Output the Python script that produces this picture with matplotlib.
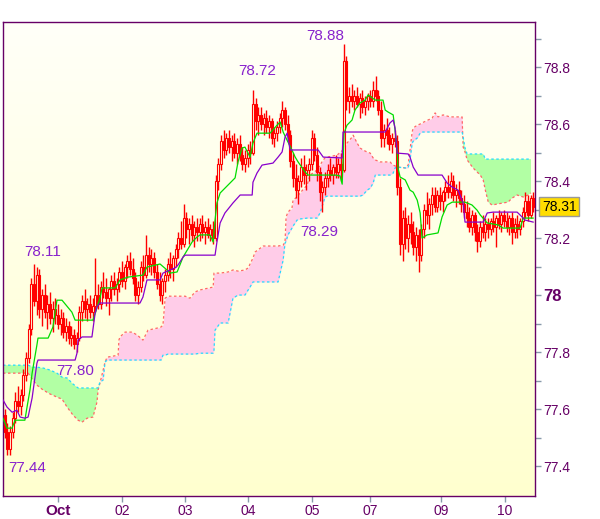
import numpy as np
import matplotlib.pyplot as plt
from matplotlib.colors import LinearSegmentedColormap

plt.rcParams['font.family'] = ['Liberation Sans', 'DejaVu Sans']

# hourly candles, USD/JPY-like
opens = [77.58, 77.52, 77.46, 77.52, 77.57, 77.63, 77.61, 77.65, 77.72, 77.78,
         77.88, 78.04, 77.98, 78.07, 77.95, 78.00, 77.94, 77.97, 77.92, 77.95,
         77.93, 77.90, 77.92, 77.87, 77.89, 77.85, 77.86, 77.83, 77.85, 77.94,
         77.98, 77.95, 77.97, 77.94, 77.96, 78.00, 77.97, 78.03, 78.01, 77.99,
         78.02, 78.05, 78.02, 78.04, 78.08, 78.05, 78.10, 78.12, 78.09, 78.06,
         78.00, 78.03, 78.10, 78.07, 78.14, 78.11, 78.13, 78.08, 78.04, 78.00,
         78.05, 78.07, 78.11, 78.09, 78.13, 78.16, 78.20, 78.18, 78.27, 78.23,
         78.25, 78.21, 78.24, 78.22, 78.25, 78.22, 78.24, 78.21, 78.23, 78.20,
         78.40, 78.46, 78.54, 78.51, 78.55, 78.52, 78.54, 78.50, 78.53, 78.49,
         78.46, 78.48, 78.51, 78.50, 78.67, 78.61, 78.63, 78.60, 78.62, 78.59,
         78.61, 78.55, 78.57, 78.59, 78.62, 78.65, 78.60, 78.56, 78.47, 78.41,
         78.37, 78.40, 78.45, 78.42, 78.44, 78.46, 78.55, 78.49, 78.43, 78.36,
         78.38, 78.41, 78.44, 78.42, 78.45, 78.43, 78.46, 78.44, 78.82, 78.68,
         78.70, 78.68, 78.70, 78.67, 78.69, 78.66, 78.68, 78.70, 78.68, 78.72,
         78.70, 78.65, 78.55, 78.58, 78.56, 78.53, 78.55, 78.54, 78.38, 78.18,
         78.27, 78.20, 78.25, 78.22, 78.17, 78.21, 78.14, 78.23, 78.30, 78.28,
         78.32, 78.35, 78.31, 78.35, 78.33, 78.36, 78.38, 78.36, 78.40, 78.35,
         78.37, 78.34, 78.32, 78.29, 78.27, 78.24, 78.28, 78.22, 78.19, 78.24,
         78.22, 78.25, 78.23, 78.26, 78.24, 78.27, 78.25, 78.28, 78.26, 78.24,
         78.27, 78.22, 78.25, 78.23, 78.26, 78.29, 78.33, 78.28, 78.34]
highs = [77.60, 77.55, 77.54, 77.59, 77.66, 77.68, 77.67, 77.74, 77.80, 77.90,
         78.06, 78.11, 78.10, 78.09, 78.02, 78.04, 78.00, 78.01, 77.98, 77.99,
         77.97, 77.95, 77.94, 77.92, 77.91, 77.89, 77.88, 77.87, 77.96, 78.00,
         78.02, 77.99, 78.00, 77.99, 78.13, 78.04, 78.05, 78.08, 78.06, 78.03,
         78.07, 78.08, 78.06, 78.10, 78.12, 78.11, 78.14, 78.15, 78.13, 78.08,
         78.05, 78.12, 78.14, 78.21, 78.17, 78.16, 78.15, 78.11, 78.08, 78.06,
         78.09, 78.13, 78.15, 78.14, 78.18, 78.22, 78.26, 78.32, 78.29, 78.27,
         78.28, 78.26, 78.27, 78.27, 78.28, 78.26, 78.27, 78.25, 78.26, 78.42,
         78.48, 78.56, 78.58, 78.57, 78.58, 78.56, 78.57, 78.55, 78.56, 78.52,
         78.51, 78.53, 78.54, 78.72, 78.69, 78.66, 78.66, 78.64, 78.65, 78.63,
         78.62, 78.59, 78.61, 78.64, 78.68, 78.66, 78.63, 78.58, 78.50, 78.46,
         78.42, 78.48, 78.49, 78.46, 78.48, 78.58, 78.57, 78.52, 78.45, 78.40,
         78.43, 78.46, 78.48, 78.46, 78.49, 78.48, 78.50, 78.88, 78.84, 78.73,
         78.74, 78.72, 78.73, 78.71, 78.72, 78.70, 78.71, 78.72, 78.75, 78.77,
         78.72, 78.68, 78.60, 78.62, 78.59, 78.57, 78.58, 78.56, 78.41, 78.30,
         78.31, 78.28, 78.29, 78.26, 78.24, 78.23, 78.25, 78.32, 78.36, 78.34,
         78.38, 78.38, 78.37, 78.38, 78.37, 78.40, 78.42, 78.43, 78.42, 78.39,
         78.40, 78.37, 78.35, 78.33, 78.31, 78.30, 78.29, 78.25, 78.26, 78.28,
         78.27, 78.27, 78.27, 78.29, 78.28, 78.30, 78.29, 78.30, 78.29, 78.28,
         78.29, 78.27, 78.28, 78.27, 78.31, 78.36, 78.35, 78.35, 78.36]
lows = [77.50, 77.44, 77.44, 77.50, 77.55, 77.59, 77.58, 77.63, 77.70, 77.76,
        77.86, 77.96, 77.93, 77.92, 77.89, 77.92, 77.88, 77.90, 77.87, 77.90,
        77.88, 77.86, 77.85, 77.84, 77.83, 77.82, 77.81, 77.80, 77.84, 77.91,
        77.92, 77.91, 77.92, 77.91, 77.94, 77.95, 77.95, 77.99, 77.96, 77.93,
        77.98, 78.00, 77.98, 78.01, 78.03, 78.02, 78.06, 78.07, 78.04, 77.98,
        77.97, 78.01, 78.05, 78.06, 78.08, 78.07, 78.06, 78.02, 77.98, 77.97,
        78.01, 78.05, 78.06, 78.05, 78.10, 78.13, 78.16, 78.17, 78.20, 78.18,
        78.19, 78.17, 78.19, 78.19, 78.20, 78.18, 78.20, 78.19, 78.18, 78.19,
        78.37, 78.44, 78.48, 78.49, 78.50, 78.47, 78.48, 78.46, 78.47, 78.44,
        78.43, 78.45, 78.46, 78.49, 78.58, 78.56, 78.58, 78.56, 78.57, 78.55,
        78.53, 78.52, 78.54, 78.57, 78.59, 78.58, 78.54, 78.45, 78.38, 78.34,
        78.32, 78.38, 78.39, 78.37, 78.40, 78.44, 78.47, 78.40, 78.33, 78.29,
        78.35, 78.38, 78.40, 78.39, 78.41, 78.41, 78.40, 78.43, 78.65, 78.64,
        78.66, 78.65, 78.66, 78.62, 78.64, 78.63, 78.65, 78.66, 78.66, 78.68,
        78.63, 78.52, 78.52, 78.53, 78.51, 78.50, 78.52, 78.35, 78.14, 78.12,
        78.16, 78.15, 78.18, 78.14, 78.12, 78.08, 78.12, 78.20, 78.25, 78.23,
        78.28, 78.29, 78.29, 78.30, 78.29, 78.33, 78.34, 78.34, 78.33, 78.31,
        78.32, 78.29, 78.27, 78.24, 78.22, 78.21, 78.19, 78.15, 78.17, 78.20,
        78.19, 78.20, 78.21, 78.22, 78.17, 78.23, 78.22, 78.24, 78.22, 78.21,
        78.18, 78.20, 78.20, 78.21, 78.24, 78.27, 78.26, 78.27, 78.29]
closes = [77.52, 77.46, 77.52, 77.57, 77.63, 77.61, 77.65, 77.72, 77.78, 77.88,
          78.04, 77.98, 78.07, 77.95, 78.00, 77.94, 77.97, 77.92, 77.95, 77.93,
          77.90, 77.92, 77.87, 77.89, 77.85, 77.86, 77.83, 77.85, 77.94, 77.98,
          77.95, 77.97, 77.94, 77.96, 78.00, 77.97, 78.03, 78.01, 77.99, 78.02,
          78.05, 78.02, 78.04, 78.08, 78.05, 78.10, 78.12, 78.09, 78.06, 78.00,
          78.03, 78.10, 78.07, 78.14, 78.11, 78.13, 78.08, 78.04, 78.00, 78.05,
          78.07, 78.11, 78.09, 78.13, 78.16, 78.20, 78.18, 78.27, 78.23, 78.25,
          78.21, 78.24, 78.22, 78.25, 78.22, 78.24, 78.21, 78.23, 78.20, 78.40,
          78.46, 78.54, 78.51, 78.55, 78.52, 78.54, 78.50, 78.53, 78.49, 78.46,
          78.48, 78.51, 78.50, 78.67, 78.61, 78.63, 78.60, 78.62, 78.59, 78.61,
          78.55, 78.57, 78.59, 78.62, 78.65, 78.60, 78.56, 78.47, 78.41, 78.37,
          78.40, 78.45, 78.42, 78.44, 78.46, 78.55, 78.49, 78.43, 78.36, 78.38,
          78.41, 78.44, 78.42, 78.45, 78.43, 78.46, 78.44, 78.82, 78.68, 78.70,
          78.68, 78.70, 78.67, 78.69, 78.66, 78.68, 78.70, 78.68, 78.72, 78.70,
          78.65, 78.55, 78.58, 78.56, 78.53, 78.55, 78.54, 78.38, 78.18, 78.27,
          78.20, 78.25, 78.22, 78.17, 78.21, 78.14, 78.23, 78.30, 78.28, 78.32,
          78.35, 78.31, 78.35, 78.33, 78.36, 78.38, 78.36, 78.40, 78.35, 78.37,
          78.34, 78.32, 78.29, 78.27, 78.24, 78.28, 78.22, 78.19, 78.24, 78.22,
          78.25, 78.23, 78.26, 78.24, 78.27, 78.25, 78.28, 78.26, 78.24, 78.27,
          78.22, 78.25, 78.23, 78.26, 78.29, 78.33, 78.28, 78.34, 78.31]

# tenkan (green) and kijun (purple) line vertices: (bar index, price)
tenkan_x = [-0.6, 0.9, 2.8, 3.9, 7.6, 8.4, 9.5, 10.3, 12.1, 12.5, 16.3, 18.1, 19.6, 21.5,
            25.2, 26.4, 33.1, 35.7, 36.5, 41.4, 43.2, 46.2, 51.8, 53.3, 58.2, 60.8, 61.9,
            64.6, 66.8, 70.2, 72.1, 73.2, 76.9, 78.1, 78.8, 79.5, 80.7, 84.4, 86.3, 87.4,
            88.9, 90.0, 91.9, 93.0, 94.5, 99.4, 102.0, 103.2, 104.3, 106.1, 107.6, 108.8,
            109.9, 112.5, 113.6, 123.7, 125.6, 126.4, 127.1, 128.2, 130.1, 131.2, 133.1,
            135.0, 136.1, 138.8, 141.7, 142.5, 143.6, 145.5, 146.2, 147.0, 147.3, 148.1,
            150.0, 151.8, 153.0, 154.5, 155.6, 156.3, 158.2, 162.3, 163.8, 165.7, 167.6,
            172.4, 175.0, 176.9, 178.1, 180.7, 184.8, 186.6, 193.0, 194.2, 197.9]
tenkan = [77.568, 77.533, 77.533, 77.561, 77.561, 77.607, 77.667, 77.726, 77.825, 77.849,
          77.849, 77.888, 77.982, 77.982, 77.940, 77.912, 77.912, 77.989, 78.025, 78.025,
          78.053, 78.063, 78.070, 78.098, 78.109, 78.088, 78.077, 78.081, 78.133, 78.186,
          78.204, 78.211, 78.211, 78.186, 78.263, 78.323, 78.358, 78.393, 78.411, 78.467,
          78.516, 78.519, 78.484, 78.533, 78.568, 78.568, 78.596, 78.607, 78.572, 78.537,
          78.509, 78.484, 78.467, 78.432, 78.421, 78.421, 78.418, 78.389, 78.568, 78.596,
          78.614, 78.649, 78.674, 78.684, 78.702, 78.684, 78.684, 78.649, 78.642, 78.632,
          78.579, 78.509, 78.446, 78.414, 78.404, 78.368, 78.361, 78.333, 78.288, 78.200,
          78.211, 78.218, 78.274, 78.316, 78.326, 78.326, 78.316, 78.298, 78.281, 78.253,
          78.246, 78.235, 78.235, 78.270, 78.270]

kijun_x = [-0.6, 0.9, 2.8, 4.6, 5.8, 7.6, 8.8, 10.3, 12.1, 12.5, 26.4, 27.1, 27.5, 29.0,
           32.7, 33.9, 34.6, 35.7, 50.7, 51.8, 53.3, 58.2, 59.3, 61.9, 63.8, 64.9, 66.8,
           67.6, 78.8, 79.5, 80.7, 82.5, 85.5, 88.2, 92.7, 93.0, 94.5, 96.4, 100.5, 102.4,
           103.9, 105.0, 105.8, 106.9, 117.4, 119.3, 126.4, 126.7, 142.5, 144.3, 145.5,
           146.2, 147.0, 151.1, 151.8, 153.0, 154.8, 163.8, 165.7, 167.6, 169.8, 171.7,
           172.4, 179.2, 180.7, 182.9, 191.9, 193.0, 194.9, 197.9]
kijun = [77.632, 77.607, 77.589, 77.596, 77.572, 77.568, 77.572, 77.639, 77.761, 77.772,
         77.772, 77.796, 77.842, 77.853, 77.853, 77.937, 77.958, 77.972, 77.972, 77.993,
         78.053, 78.053, 78.077, 78.088, 78.095, 78.105, 78.133, 78.140, 78.140, 78.186,
         78.253, 78.288, 78.323, 78.351, 78.351, 78.396, 78.428, 78.456, 78.463, 78.484,
         78.502, 78.554, 78.568, 78.509, 78.509, 78.484, 78.481, 78.572, 78.572, 78.604,
         78.614, 78.586, 78.498, 78.495, 78.484, 78.449, 78.421, 78.421, 78.393, 78.379,
         78.368, 78.323, 78.256, 78.256, 78.288, 78.291, 78.291, 78.281, 78.263, 78.256]

# cloud spans on a shared set of bar positions
span_x = [-0.6, 8.8, 10.6, 12.1, 14.4, 17.0, 19.6, 21.5, 23.4, 25.6, 27.5, 29.0, 30.9, 33.1,
          34.6, 35.0, 35.7, 36.9, 37.6, 38.4, 42.5, 42.8, 43.2, 45.1, 47.7, 49.6, 51.8, 53.7,
          57.1, 58.6, 59.3, 60.1, 61.2, 67.6, 69.4, 71.3, 73.2, 78.1, 78.4, 78.8, 80.7, 83.7,
          85.5, 87.4, 90.0, 91.2, 91.9, 93.0, 93.8, 96.8, 102.4, 104.3, 105.0, 105.4, 106.1,
          107.6, 108.0, 109.5, 110.6, 113.3, 114.4, 117.0, 118.1, 119.3, 120.0, 120.8, 124.5,
          126.7, 128.2, 130.1, 130.5, 132.0, 133.1, 134.2, 135.7, 136.9, 138.0, 138.8, 140.6,
          144.3, 145.5, 146.2, 147.0, 150.0, 151.1, 151.8, 152.6, 153.0, 154.5, 155.6, 156.3,
          160.1, 161.2, 162.3, 164.2, 166.8, 171.3, 171.7, 172.4, 173.2, 175.4, 176.9, 178.1,
          179.2, 180.0, 181.1, 182.5, 186.6, 188.5, 190.0, 191.9, 194.2, 196.0, 197.1]
span_a = [77.726, 77.726, 77.702, 77.684, 77.667, 77.653, 77.642, 77.635, 77.607, 77.579,
          77.561, 77.554, 77.568, 77.572, 77.625, 77.667, 77.691, 77.737, 77.765, 77.782,
          77.789, 77.842, 77.853, 77.870, 77.870, 77.860, 77.842, 77.877, 77.884, 77.888,
          77.895, 77.989, 77.996, 77.996, 77.989, 78.011, 78.018, 78.028, 78.077, 78.077,
          78.077, 78.081, 78.088, 78.084, 78.088, 78.095, 78.109, 78.130, 78.151, 78.172,
          78.172, 78.175, 78.186, 78.274, 78.291, 78.305, 78.333, 78.344, 78.358, 78.386,
          78.421, 78.439, 78.456, 78.474, 78.481, 78.484, 78.491, 78.509, 78.533, 78.554,
          78.561, 78.533, 78.516, 78.509, 78.502, 78.498, 78.481, 78.474, 78.467, 78.467,
          78.456, 78.453, 78.449, 78.446, 78.456, 78.509, 78.572, 78.586, 78.596, 78.600,
          78.604, 78.621, 78.639, 78.625, 78.632, 78.625, 78.625, 78.519, 78.502, 78.474,
          78.446, 78.432, 78.421, 78.404, 78.368, 78.326, 78.316, 78.323, 78.326, 78.340,
          78.351, 78.344, 78.351, 78.358]
span_b = [77.754, 77.754, 77.747, 77.747, 77.744, 77.737, 77.726, 77.712, 77.709, 77.688,
          77.674, 77.674, 77.674, 77.674, 77.674, 77.674, 77.695, 77.702, 77.765, 77.772,
          77.772, 77.772, 77.772, 77.772, 77.772, 77.772, 77.772, 77.772, 77.772, 77.772,
          77.789, 77.789, 77.793, 77.793, 77.793, 77.793, 77.796, 77.796, 77.807, 77.877,
          77.902, 77.902, 77.989, 78.000, 78.000, 78.018, 78.028, 78.046, 78.046, 78.046,
          78.046, 78.123, 78.182, 78.189, 78.211, 78.235, 78.242, 78.263, 78.267, 78.270,
          78.270, 78.270, 78.288, 78.323, 78.344, 78.347, 78.347, 78.347, 78.347, 78.347,
          78.347, 78.347, 78.347, 78.351, 78.368, 78.375, 78.393, 78.421, 78.421, 78.421,
          78.428, 78.446, 78.449, 78.446, 78.446, 78.474, 78.533, 78.540, 78.551, 78.568,
          78.572, 78.572, 78.572, 78.572, 78.572, 78.572, 78.572, 78.554, 78.516, 78.495,
          78.495, 78.495, 78.495, 78.495, 78.477, 78.477, 78.477, 78.477, 78.477, 78.477,
          78.477, 78.477, 78.477, 78.477]

day_pos = [20.0, 44.0, 67.6, 91.2, 115.1, 136.9, 163.4, 187.4]
day_labels = ['Oct', '02', '03', '04', '05', '07', '09', '10']

# high / low labels: (text, bar, price)
marks = [('78.88', 120.0, 78.909), ('78.72', 94.5, 78.786), ('78.11', 14.4, 78.151),
         ('77.80', 26.4, 77.733), ('77.44', 8.4, 77.393), ('78.29', 118.0, 78.221)]
last_price = 78.31

o = np.array(opens); h = np.array(highs); l = np.array(lows); c = np.array(closes)
idx = np.arange(len(c))
sx = np.array(span_x); sa = np.array(span_a); sb = np.array(span_b)

purple = '#660066'
fig = plt.figure(figsize=(6, 5.19), dpi=100)
ax = fig.add_axes([3/600, 23/519, 532/600, 474/519])

# pale yellow gradient background
cmap = LinearSegmentedColormap.from_list('bg', ['#ffffcf', '#fffff8'])
ax.imshow(np.linspace(0, 1, 256).reshape(-1, 1), extent=[0, 1, 0, 1], origin='lower',
          transform=ax.transAxes, aspect='auto', cmap=cmap, zorder=0)

# cloud
ax.fill_between(sx, sa, sb, where=sa >= sb, interpolate=True, color='#ffcce8', lw=0, zorder=1)
ax.fill_between(sx, sa, sb, where=sa < sb, interpolate=True, color='#b2ffa4', lw=0, zorder=1)
ax.plot(sx, sa, color='#ff6666', lw=0.9, ls=(0, (2, 2)), zorder=2)
ax.plot(sx, sb, color='#22ddff', lw=0.9, ls=(0, (2, 2)), zorder=2)

# candles
up = c >= o
ax.vlines(idx, l, h, color='#ff0000', lw=1, zorder=3)
ax.bar(idx[up], (c - o)[up], bottom=o[up], width=0.75, facecolor='#ffffe0',
       edgecolor='#ff0000', lw=0.8, zorder=3)
ax.bar(idx[~up], (c - o)[~up], bottom=o[~up], width=0.75, facecolor='#ff0000',
       edgecolor='#ff0000', lw=0.8, zorder=3)

ax.plot(tenkan_x, tenkan, color='#00dd00', lw=0.9, zorder=4)
ax.plot(kijun_x, kijun, color='#8800cc', lw=0.9, zorder=4)

for txt, bx, py in marks:
    ax.text(bx, py, txt, color='#8822cc', fontsize=11, ha='center', va='center', zorder=5)

ax.annotate('%.2f' % last_price, xy=(1, last_price), xycoords=('axes fraction', 'data'),
            xytext=(5, 0), textcoords='offset points', ha='left', va='center',
            fontsize=10, color='black',
            bbox=dict(boxstyle='square,pad=0.18', fc='#ffdd00', ec='#999999', lw=1))

ax.set_xlim(-0.6, 198.6)
ax.set_ylim(77.295, 78.958)

for s in ax.spines.values():
    s.set_color(purple)
    s.set_linewidth(1)

ax.yaxis.tick_right()
yt = [77.4, 77.6, 77.8, 78.0, 78.2, 78.4, 78.6, 78.8]
ax.set_yticks(yt)
ax.set_yticklabels(['77.4', '77.6', '77.8', '78', '78.2', '78.4', '78.6', '78.8'])
ax.set_yticks([77.5, 77.7, 77.9, 78.1, 78.3, 78.5, 78.7, 78.9], minor=True)
ax.tick_params(axis='y', which='both', length=4, width=1, color='#8899aa',
               labelcolor=purple, labelsize=10, pad=2)
for t in ax.get_yticklabels():
    if t.get_text() == '78':
        t.set_fontweight('bold')
        t.set_fontsize(12)

ax.set_xticks(day_pos)
ax.set_xticklabels(day_labels)
ax.tick_params(axis='x', length=4, width=1, color='#8899aa', labelcolor=purple,
               labelsize=10, pad=2)
for t in ax.get_xticklabels():
    if t.get_text() == 'Oct':
        t.set_fontweight('bold')
        t.set_fontsize(11)

fig.savefig('out.png', dpi=100, facecolor='white')
